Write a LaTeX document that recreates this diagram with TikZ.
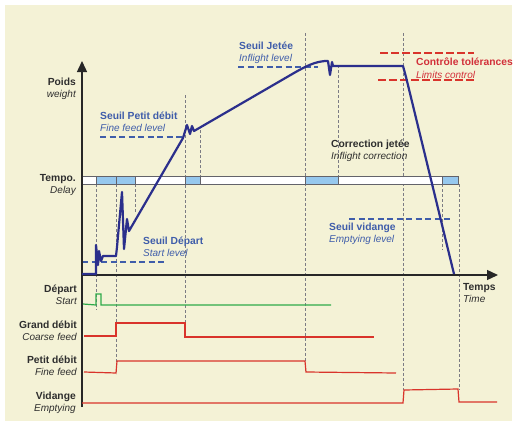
\documentclass[tikz,border=0pt]{standalone}
\usepackage{fontspec}
\setmainfont{Liberation Sans}
\usetikzlibrary{arrows.meta}
\definecolor{bgc}{HTML}{F4F2D6}
\definecolor{navy}{HTML}{2B2F8C}
\definecolor{lvl}{HTML}{3F5DAA}
\definecolor{redc}{HTML}{D9342B}
\definecolor{redt}{HTML}{D2303A}
\definecolor{grn}{HTML}{2EAA4A}
\definecolor{lblue}{HTML}{96C8EE}
\definecolor{txt}{HTML}{2E2E2E}
\definecolor{guide}{HTML}{7C7C84}
\newcommand\BoldL[1]{{\fontsize{10.3}{12.5}\selectfont\bfseries #1}}
\newcommand\ItalL[1]{{\fontsize{10}{12.5}\selectfont\itshape #1}}
\begin{document}
\begin{tikzpicture}[x=1pt,y=-1pt,
  lbl/.style={inner sep=0pt, font=\fontsize{10}{12.5}\selectfont, text=txt},
  lvltxt/.style={lbl, text=lvl, align=left, anchor=west},
  sidetxt/.style={lbl, align=right, anchor=east},
  guideline/.style={guide, line width=0.6pt, dash pattern=on 3pt off 2pt},
  lvlline/.style={lvl, line width=1.8pt, dash pattern=on 6pt off 3.5pt},
  tolline/.style={redc, line width=1.5pt, dash pattern=on 7.5pt off 3.5pt},
  axisline/.style={txt!85!black, line width=1.4pt},
  wcurve/.style={navy, line width=2.2pt, line join=round},
  sig/.style={line width=1.2pt, line join=miter},
  tbar/.style={draw=guide!80!black, line width=0.9pt, fill=white},
  tbox/.style={draw=guide!80!black, line width=0.9pt, fill=lblue}]
\useasboundingbox (0,0) rectangle (515,421);
\fill[bgc] (5,5) rectangle (512,421);

% guide lines
\draw[guideline] (96,184) -- (96,310);
\draw[guideline] (116,184) -- (116,374);
\draw[guideline] (135,184) -- (135,213);
\draw[guideline] (185,95) -- (185,337);
\draw[guideline] (200,130) -- (200,176);
\draw[guideline] (305,33) -- (305,372);
\draw[guideline] (338,65) -- (338,176);
\draw[guideline] (403,33) -- (403,390);
\draw[guideline] (442,184) -- (442,250);
\draw[guideline] (459,184) -- (459,390);

% tempo bar
\draw[tbar] (82,176) rectangle (458,184);
\draw[tbox] (96,176) rectangle (116,184);
\draw[tbox] (116,176) rectangle (135,184);
\draw[tbox] (185,176) rectangle (200,184);
\draw[tbox] (305,176) rectangle (338,184);
\draw[tbox] (442,176) rectangle (458,184);

% levels
\draw[lvlline] (100,137) -- (183,137);
\draw[lvlline] (238,67) -- (318,67);
\draw[lvlline] (82,262) -- (167,262);
\draw[lvlline] (349,219) -- (452,219);
\draw[tolline] (380,53) -- (474,53);
\draw[tolline] (378,80) -- (477,80);

% axes
\coordinate (origin) at (82,275);
\coordinate (ytop) at (82,61);
\coordinate (ybot) at (82,407);
\coordinate (xend) at (498,275);
\draw[axisline, -{Triangle[width=10pt,length=11pt]}] (ybot) -- (ytop);
\draw[axisline, -{Triangle[width=10pt,length=11pt]}] (origin) -- (xend);

% weight curve
\draw[wcurve] (82,274) -- (96,274) -- (96,245) -- (98,265) -- (99,251) -- (101,261) -- (103,256)
  -- (116,256) -- (117,247) -- (122,192) -- (124,249) -- (127,219) -- (129,231)
  -- (183,138) -- (187,125) -- (190,134) -- (192,126) -- (194,131)
  -- (294,73) .. controls (308,65) and (315,62) .. (325,61) -- (328,61) -- (330,75)
  -- (332,62) -- (333,66) -- (403,66) -- (406,77) -- (454,274);

% signals
\draw[sig, grn] (83,304) -- (96,305) -- (96,294) -- (101,294) -- (101,305) -- (331,305);
\draw[sig, redc] (84,336) -- (116,336) -- (116,323) -- (185,323) -- (185,337) -- (374,337);
\draw[sig, redc] (84,372) -- (116,373) -- (117,361) -- (305,361) -- (306,372) -- (396,373);
\draw[sig, redc] (82,403) -- (403,403) -- (404,390) -- (458,389) -- (459,402) -- (497,402);

% labels
\node[sidetxt] (poids) at (76,89) {\BoldL{Poids}\\\ItalL{weight}};
\node[sidetxt] (tempo) at (76,185) {\BoldL{Tempo.}\\\ItalL{Delay}};
\node[sidetxt] (depart) at (77,295) {\BoldL{Départ}\\\ItalL{Start}};
\node[sidetxt] (grand) at (77,331) {\BoldL{Grand débit}\\\ItalL{Coarse feed}};
\node[sidetxt] (petit) at (77,366) {\BoldL{Petit débit}\\\ItalL{Fine feed}};
\node[sidetxt] (vidange) at (76,403) {\BoldL{Vidange}\\\ItalL{Emptying}};
\node[lvltxt] (spd) at (100,122) {\BoldL{Seuil Petit débit}\\\ItalL{Fine feed level}};
\node[lvltxt] (sj) at (239,53) {\BoldL{Seuil Jetée}\\\ItalL{Inflight level}};
\node[lvltxt, text=redt] (ct) at (416,68) {\BoldL{Contrôle tolérances}\\\ItalL{Limits control}};
\node[lbl, align=left, anchor=west] (cj) at (331,151) {\BoldL{Correction jetée}\\\ItalL{Inflight correction}};
\node[lvltxt] (sd) at (143,247) {\BoldL{Seuil Départ}\\\ItalL{Start level}};
\node[lvltxt] (sv) at (329,234) {\BoldL{Seuil vidange}\\\ItalL{Emptying level}};
\node[lbl, align=left, anchor=west] (temps) at (463,293) {\BoldL{Temps}\\\ItalL{Time}};
\end{tikzpicture}
\end{document}
